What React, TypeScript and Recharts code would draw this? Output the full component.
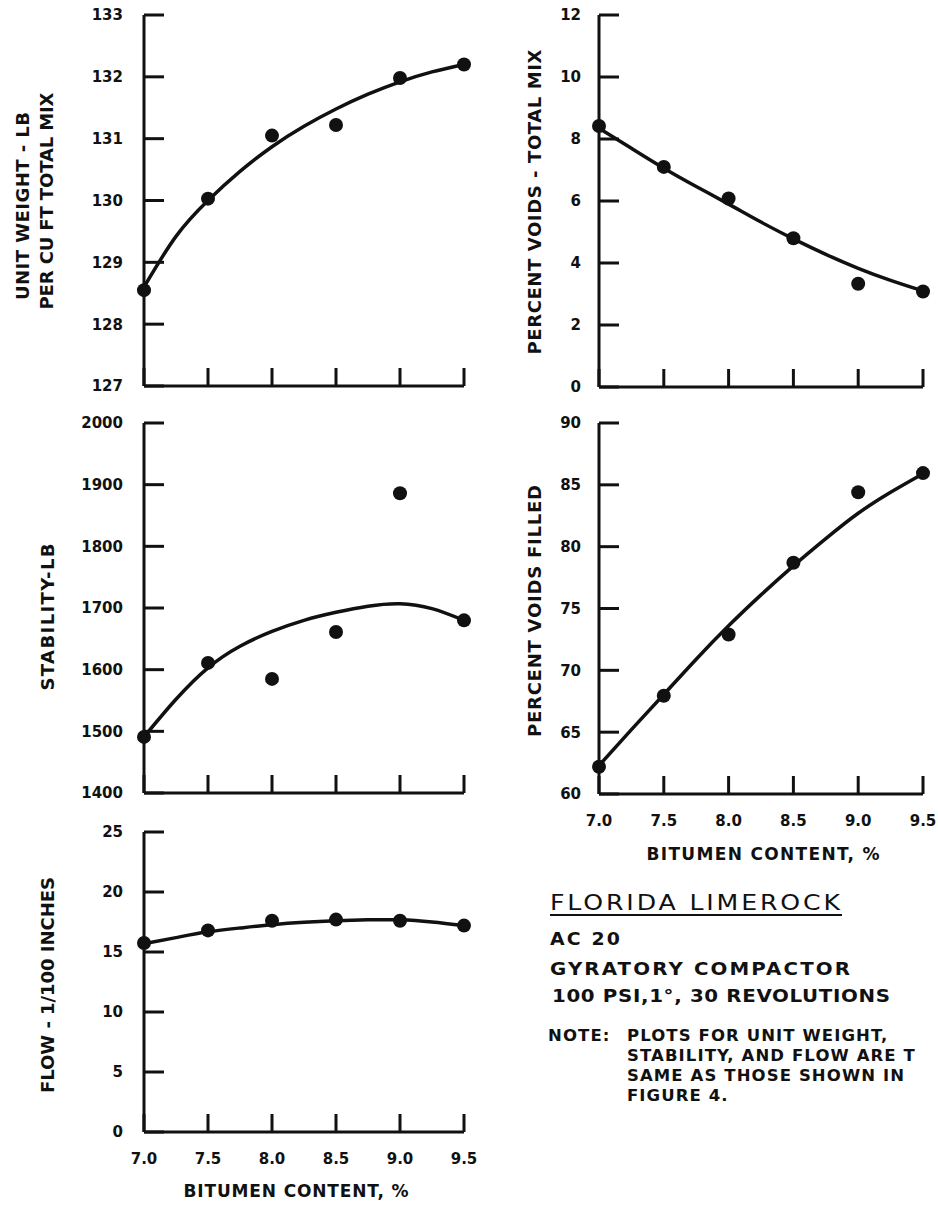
import { ComposedChart, Line, Scatter, XAxis, YAxis, Label } from 'recharts';

const BOLD = '"DejaVu Sans", "Liberation Sans", Arial, sans-serif';
const INK = '#111';

// bitumen content, % — measured mixes
const bitumen = [7.0, 7.5, 8.0, 8.5, 9.0, 9.5];
// stations along each hand-fitted curve
const curveBitumen = [7.0, 7.25, 7.5, 7.75, 8.0, 8.25, 8.5, 8.75, 9.0, 9.25, 9.5];
const bitumenTicks = [7.0, 7.5, 8.0, 8.5, 9.0, 9.5];

const unitWeight = [128.55, 130.03, 131.05, 131.22, 131.98, 132.2];
const unitWeightCurve = [128.6, 129.42, 130.0, 130.47, 130.87, 131.2, 131.48, 131.72, 131.92, 132.08, 132.2];
const unitWeightTicks = [127, 128, 129, 130, 131, 132, 133];

const voidsTotal = [8.42, 7.1, 6.08, 4.8, 3.33, 3.08];
const voidsTotalCurve = [8.35, 7.7, 7.06, 6.47, 5.9, 5.32, 4.78, 4.28, 3.83, 3.44, 3.1];
const voidsTotalTicks = [0, 2, 4, 6, 8, 10, 12];

const stability = [1491, 1611, 1585, 1661, 1886, 1680];
const stabilityCurve = [1491, 1552, 1603, 1638, 1662, 1680, 1693, 1703, 1707, 1699, 1680];
const stabilityTicks = [1400, 1500, 1600, 1700, 1800, 1900, 2000];

const voidsFilled = [62.2, 67.95, 72.9, 78.7, 84.4, 85.95];
const voidsFilledCurve = [62.3, 65.2, 68.05, 70.9, 73.6, 76.1, 78.45, 80.65, 82.7, 84.4, 85.9];
const voidsFilledTicks = [60, 65, 70, 75, 80, 85, 90];

const flow = [15.75, 16.8, 17.6, 17.7, 17.6, 17.2];
const flowCurve = [15.7, 16.2, 16.68, 17.0, 17.27, 17.47, 17.6, 17.68, 17.68, 17.5, 17.2];
const flowTicks = [0, 5, 10, 15, 20, 25];

const X_TITLE = 'BITUMEN CONTENT, %';
const Y_AXIS_X = 144;

const NOTE_LINES = [
  'PLOTS FOR UNIT WEIGHT,',
  'STABILITY, AND FLOW ARE T',
  'SAME AS THOSE SHOWN IN',
  'FIGURE 4.',
];

type TitleLine = { text: string; x: number; y: number; length: number };

type PanelProps = {
  left: number;
  top: number;
  width: number;
  height: number;
  margin: { top: number; right: number; bottom: number; left: number };
  xHeight: number;
  values: number[];
  curve: number[];
  yTicks: number[];
  yGap: number;
  yTitle: TitleLine[];
  xLabels?: boolean;
  xTitle?: TitleLine;
};

const bold = {
  fontFamily: BOLD,
  fontWeight: 700,
  fill: INK,
};

// ticks point into the plot, labels sit outside
function YTick(props: any) {
  const { y, payload, gap } = props;
  return (
    <g>
      <line x1={Y_AXIS_X} x2={Y_AXIS_X + 20} y1={y} y2={y} stroke={INK} strokeWidth={3} />
      <text x={Y_AXIS_X - gap} y={y} dy="0.36em" textAnchor="end" fontSize={15} {...bold}>
        {payload.value}
      </text>
    </g>
  );
}

function XTick(props: any) {
  const { x, payload, axisY, showLabel } = props;
  return (
    <g>
      <line x1={x} x2={x} y1={axisY} y2={axisY - 18} stroke={INK} strokeWidth={3} />
      {showLabel && (
        <text x={x} y={axisY + 21} dy="0.73em" textAnchor="middle" fontSize={15} {...bold}>
          {Number(payload.value).toFixed(1)}
        </text>
      )}
    </g>
  );
}

function Dot(props: any) {
  const { cx, cy } = props;
  return <circle cx={cx} cy={cy} r={7} fill={INK} />;
}

function VerticalTitle({ lines }: { lines: TitleLine[] }) {
  return (
    <g>
      {lines.map((l) => (
        <text
          key={l.text}
          x={l.x}
          y={l.y}
          dy="0.36em"
          textAnchor="middle"
          transform={`rotate(-90, ${l.x}, ${l.y})`}
          fontSize={18}
          textLength={l.length}
          lengthAdjust="spacing"
          {...bold}
        >
          {l.text}
        </text>
      ))}
    </g>
  );
}

function Panel(p: PanelProps) {
  const points = bitumen.map((bc, i) => ({ bc, v: p.values[i] }));
  const fitted = curveBitumen.map((bc, i) => ({ bc, v: p.curve[i] }));
  const yMin = p.yTicks[0];
  const yMax = p.yTicks[p.yTicks.length - 1];
  const axisY = p.height - p.margin.bottom - p.xHeight;

  return (
    <div style={{ position: 'absolute', left: p.left, top: p.top }}>
      <ComposedChart width={p.width} height={p.height} margin={p.margin}>
        <XAxis
          type="number"
          dataKey="bc"
          domain={[7, 9.5]}
          ticks={bitumenTicks}
          interval={0}
          height={p.xHeight}
          axisLine={{ stroke: INK, strokeWidth: 3 }}
          tickLine={false}
          tick={(t: any) => <XTick {...t} axisY={axisY} showLabel={!!p.xLabels} />}
        >
          {p.xTitle && (
            <Label
              content={() => (
                <text
                  x={p.xTitle!.x}
                  y={p.xTitle!.y}
                  textAnchor="middle"
                  fontSize={17}
                  textLength={p.xTitle!.length}
                  lengthAdjust="spacing"
                  {...bold}
                >
                  {p.xTitle!.text}
                </text>
              )}
            />
          )}
        </XAxis>
        <YAxis
          type="number"
          dataKey="v"
          domain={[yMin, yMax]}
          ticks={p.yTicks}
          interval={0}
          width={Y_AXIS_X}
          axisLine={{ stroke: INK, strokeWidth: 3 }}
          tickLine={false}
          tick={(t: any) => <YTick {...t} gap={p.yGap} />}
        >
          <Label content={() => <VerticalTitle lines={p.yTitle} />} />
        </YAxis>
        <Line
          data={fitted}
          dataKey="v"
          type="natural"
          stroke={INK}
          strokeWidth={3.5}
          dot={false}
          activeDot={false}
          isAnimationActive={false}
        />
        <Scatter data={points} dataKey="v" fill={INK} shape={(s: any) => <Dot {...s} />} isAnimationActive={false} />
      </ComposedChart>
    </div>
  );
}

// a line of caption text, widened horizontally and fitted to a given length
function WideText(props: {
  x: number;
  y: number;
  length: number;
  size: number;
  stretch: number;
  weight?: number;
  children: string;
}) {
  const { x, y, length, size, stretch, weight = 700, children } = props;
  return (
    <text
      transform={`translate(${x}, ${y}) scale(${stretch}, 1)`}
      fontFamily={BOLD}
      fontWeight={weight}
      fontSize={size}
      fill={INK}
      textLength={length / stretch}
      lengthAdjust="spacing"
    >
      {children}
    </text>
  );
}

function Notes() {
  const note = { ...bold, fontSize: 16.5, letterSpacing: 1.1 };
  return (
    <svg
      width={938}
      height={1206}
      style={{ position: 'absolute', left: 0, top: 0, pointerEvents: 'none' }}
    >
      <WideText x={550} y={910} length={290} size={21} stretch={1.2} weight={400}>
        FLORIDA LIMEROCK
      </WideText>
      <line x1={550} x2={842} y1={915} y2={915} stroke={INK} strokeWidth={2} />
      <WideText x={550} y={945} length={70} size={18} stretch={1.05}>
        AC 20
      </WideText>
      <WideText x={550} y={975} length={300} size={18} stretch={1.1}>
        GYRATORY COMPACTOR
      </WideText>
      <WideText x={552} y={1002} length={338} size={18} stretch={1.1}>
        100 PSI,1°, 30 REVOLUTIONS
      </WideText>
      <text x={548} y={1041} {...note}>NOTE:</text>
      {NOTE_LINES.map((line, i) => (
        <text key={line} x={627} y={1041 + i * 20} {...note}>
          {line}
        </text>
      ))}
    </svg>
  );
}

export default function App() {
  return (
    <div
      style={{
        position: 'absolute',
        left: 0,
        top: 0,
        width: 938,
        height: 1206,
        background: '#fff',
        overflow: 'hidden',
      }}
    >
      <Panel
        left={0}
        top={0}
        width={480}
        height={420}
        margin={{ top: 15, right: 16, bottom: 4, left: 0 }}
        xHeight={30}
        values={unitWeight}
        curve={unitWeightCurve}
        yTicks={unitWeightTicks}
        yGap={21}
        yTitle={[
          { text: 'UNIT WEIGHT - LB', x: 23, y: 206, length: 188 },
          { text: 'PER CU FT TOTAL MIX', x: 47, y: 201, length: 217 },
        ]}
      />
      <Panel
        left={455}
        top={0}
        width={483}
        height={420}
        margin={{ top: 15, right: 15, bottom: 3, left: 0 }}
        xHeight={30}
        values={voidsTotal}
        curve={voidsTotalCurve}
        yTicks={voidsTotalTicks}
        yGap={18}
        yTitle={[{ text: 'PERCENT VOIDS - TOTAL MIX', x: 80, y: 202, length: 305 }]}
      />
      <Panel
        left={0}
        top={400}
        width={480}
        height={430}
        margin={{ top: 23, right: 16, bottom: 7, left: 0 }}
        xHeight={30}
        values={stability}
        curve={stabilityCurve}
        yTicks={stabilityTicks}
        yGap={21}
        yTitle={[{ text: 'STABILITY-LB', x: 48, y: 217, length: 147 }]}
      />
      <Panel
        left={455}
        top={400}
        width={483}
        height={480}
        margin={{ top: 23, right: 15, bottom: 26, left: 0 }}
        xHeight={60}
        values={voidsFilled}
        curve={voidsFilledCurve}
        yTicks={voidsFilledTicks}
        yGap={18}
        yTitle={[{ text: 'PERCENT VOIDS FILLED', x: 80, y: 211, length: 252 }]}
        xLabels
        xTitle={{ text: X_TITLE, x: 308, y: 460, length: 233 }}
      />
      <Panel
        left={0}
        top={800}
        width={480}
        height={406}
        margin={{ top: 32, right: 16, bottom: 4, left: 0 }}
        xHeight={70}
        values={flow}
        curve={flowCurve}
        yTicks={flowTicks}
        yGap={21}
        yTitle={[{ text: 'FLOW - 1/100 INCHES', x: 48, y: 185, length: 216 }]}
        xLabels
        xTitle={{ text: X_TITLE, x: 296, y: 397, length: 225 }}
      />
      <Notes />
    </div>
  );
}
